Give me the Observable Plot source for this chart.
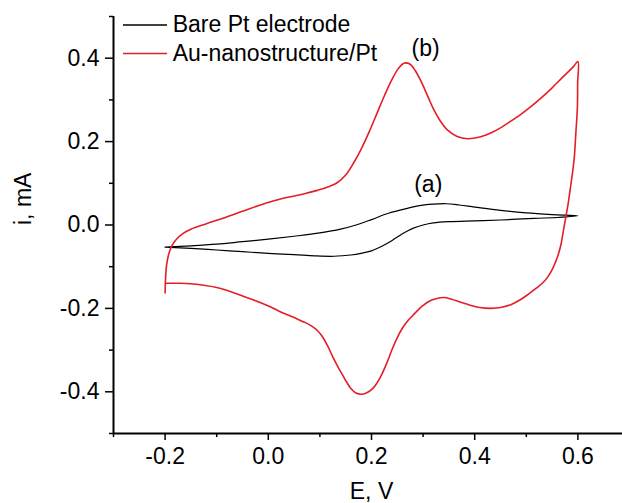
<!DOCTYPE html>
<html><head><meta charset="utf-8">
<script src="https://cdn.jsdelivr.net/npm/d3@7"></script>
<script src="https://cdn.jsdelivr.net/npm/@observablehq/plot@0.6"></script>
<style>
html,body{margin:0;padding:0;background:#fff;overflow:hidden}
#wrap{position:relative;width:622px;height:503px;overflow:hidden}
</style></head><body><div id="wrap"></div>
<script>
// Series names and colours
const seriesNames = ["Bare Pt electrode", "Au-nanostructure/Pt"];
const seriesColors = ["#000000", "#e41e26"];

// (a) Bare Pt electrode: anodic sweep then cathodic sweep
const bareE = [-0.200,-0.150,-0.100,-0.050,0.000,0.050,0.100,0.140,0.170,0.200,0.230,0.260,0.290,0.320,0.345,0.370,0.400,0.450,0.500,0.550,0.600,
  0.560,0.515,0.450,0.400,0.350,0.320,0.300,0.280,0.260,0.240,0.220,0.200,0.180,0.160,0.127,0.090,0.050,0.000,-0.050,-0.100,-0.150,-0.200];
const bareI = [-0.053,-0.050,-0.046,-0.040,-0.034,-0.027,-0.019,-0.010,0.000,0.013,0.027,0.037,0.046,0.050,0.051,0.048,0.043,0.035,0.029,0.025,0.022,
  0.018,0.016,0.012,0.010,0.008,0.005,0.000,-0.008,-0.021,-0.037,-0.051,-0.062,-0.068,-0.072,-0.075,-0.074,-0.071,-0.068,-0.064,-0.060,-0.056,-0.053];

// (b) Au-nanostructure/Pt: anodic sweep then cathodic sweep
const auE = [-0.200,-0.199,-0.197,-0.193,-0.187,-0.178,-0.165,-0.150,-0.120,-0.086,-0.050,-0.020,0.011,0.040,0.070,0.095,0.115,0.134,0.150,0.165,0.180,0.195,0.210,0.225,0.240,0.252,0.263,0.274,0.285,0.297,0.310,0.321,0.333,0.347,0.365,0.386,0.410,0.430,0.450,0.470,0.490,0.510,0.530,0.550,0.570,0.590,0.600,
  0.5995,0.599,0.596,0.593,0.589,0.585,0.581,0.576,0.571,0.567,0.560,0.552,0.543,0.534,0.520,0.505,0.490,0.470,0.450,0.431,0.410,0.390,0.370,0.355,0.340,0.325,0.310,0.300,0.290,0.280,0.270,0.260,0.250,0.240,0.230,0.220,0.210,0.200,0.190,0.180,0.170,0.160,0.150,0.145,0.135,0.125,0.115,0.105,0.095,0.085,0.070,0.050,0.020,-0.002,-0.050,-0.100,-0.150,-0.199];
const auI = [-0.163,-0.125,-0.095,-0.070,-0.050,-0.034,-0.020,-0.010,0.003,0.017,0.033,0.046,0.058,0.067,0.075,0.083,0.091,0.102,0.120,0.148,0.182,0.222,0.266,0.310,0.350,0.375,0.388,0.386,0.370,0.342,0.306,0.276,0.250,0.228,0.213,0.207,0.211,0.220,0.233,0.249,0.266,0.285,0.306,0.329,0.354,0.378,0.392,
  0.340,0.282,0.220,0.162,0.120,0.085,0.050,0.015,-0.020,-0.048,-0.078,-0.102,-0.122,-0.136,-0.151,-0.165,-0.178,-0.191,-0.198,-0.200,-0.198,-0.192,-0.184,-0.178,-0.174,-0.177,-0.184,-0.193,-0.204,-0.217,-0.230,-0.247,-0.270,-0.298,-0.330,-0.358,-0.380,-0.395,-0.403,-0.406,-0.403,-0.392,-0.373,-0.362,-0.340,-0.316,-0.290,-0.268,-0.253,-0.243,-0.233,-0.222,-0.206,-0.193,-0.170,-0.150,-0.141,-0.139];

// Axes
const xDomain = [-0.3, 0.7];
const yDomain = [-0.5, 0.5];
const xTicks = [-0.2, 0.0, 0.2, 0.4, 0.6];
const xMinor = [-0.3, -0.1, 0.1, 0.3, 0.5];
const yTicks = [-0.4, -0.2, 0.0, 0.2, 0.4];
const yMinor = [-0.5, -0.3, -0.1, 0.1, 0.3, 0.5];
const xLabel = "E, V";
const yLabel = "i, mA";

// Curve annotations
const annoLabels = ["(a)", "(b)"];
const annoE = [0.310, 0.305];
const annoI = [0.079, 0.406];

const bare = bareE.map((e, k) => ({E: e, i: bareI[k]}));
const au = auE.map((e, k) => ({E: e, i: auI[k]}));

const font = "'Liberation Sans', Arial, sans-serif";
const fmt = d => d.toFixed(1);

const chart = Plot.plot({
  width: 622, height: 503,
  marginLeft: 113, marginRight: -7, marginTop: 16, marginBottom: 70,
  style: {fontFamily: font, fontSize: "23px", color: "#000", background: "white", overflow: "hidden"},
  x: {domain: xDomain},
  y: {domain: yDomain},
  marks: [
    Plot.line(bare, {x: "E", y: "i", stroke: seriesColors[0], strokeWidth: 1.2, curve: "catmull-rom"}),
    Plot.line(au, {x: "E", y: "i", stroke: seriesColors[1], strokeWidth: 1.6, curve: "catmull-rom"}),
    Plot.axisX({ticks: xTicks, tickSize: 7, tickPadding: 7, tickFormat: fmt, label: null, strokeWidth: 1.5}),
    Plot.axisX({ticks: xMinor, tickSize: 4, tickFormat: () => "", label: null, strokeWidth: 1.5}),
    Plot.axisY({ticks: yTicks, tickSize: 8, tickPadding: 6, tickFormat: fmt, label: null, strokeWidth: 1.5}),
    Plot.axisY({ticks: yMinor, tickSize: 4, tickFormat: () => "", label: null, strokeWidth: 1.5}),
    Plot.ruleX([xDomain[0]], {strokeWidth: 2}),
    Plot.ruleY([yDomain[0]], {strokeWidth: 2}),
    Plot.text(annoLabels, {x: annoE, y: annoI, text: d => d, lineAnchor: "bottom"}),
    Plot.text([xLabel], {x: [0.2], frameAnchor: "bottom", dy: 65, lineAnchor: "bottom", text: d => d}),
    Plot.text([yLabel], {y: [0], frameAnchor: "left", dx: -83, rotate: -90, lineAnchor: "bottom", text: d => d})
  ]
});
const wrap = document.getElementById("wrap");
wrap.appendChild(chart);

// Legend (inside the plot area, top-left)
const leg = d3.select(wrap).append("svg")
  .attr("width", 622).attr("height", 503)
  .style("position", "absolute").style("left", "0px").style("top", "0px")
  .style("pointer-events", "none");
seriesNames.forEach((name, k) => {
  const y = 25 + k * 28.5;
  leg.append("line").attr("x1", 123).attr("x2", 167).attr("y1", y).attr("y2", y)
    .style("stroke", seriesColors[k]).style("stroke-width", "1.3px");
  leg.append("text").attr("x", 172.7).attr("y", y + 7.3)
    .style("font-family", font).style("font-size", "23px").style("fill", "#000").text(name);
});
</script>
</body></html>
